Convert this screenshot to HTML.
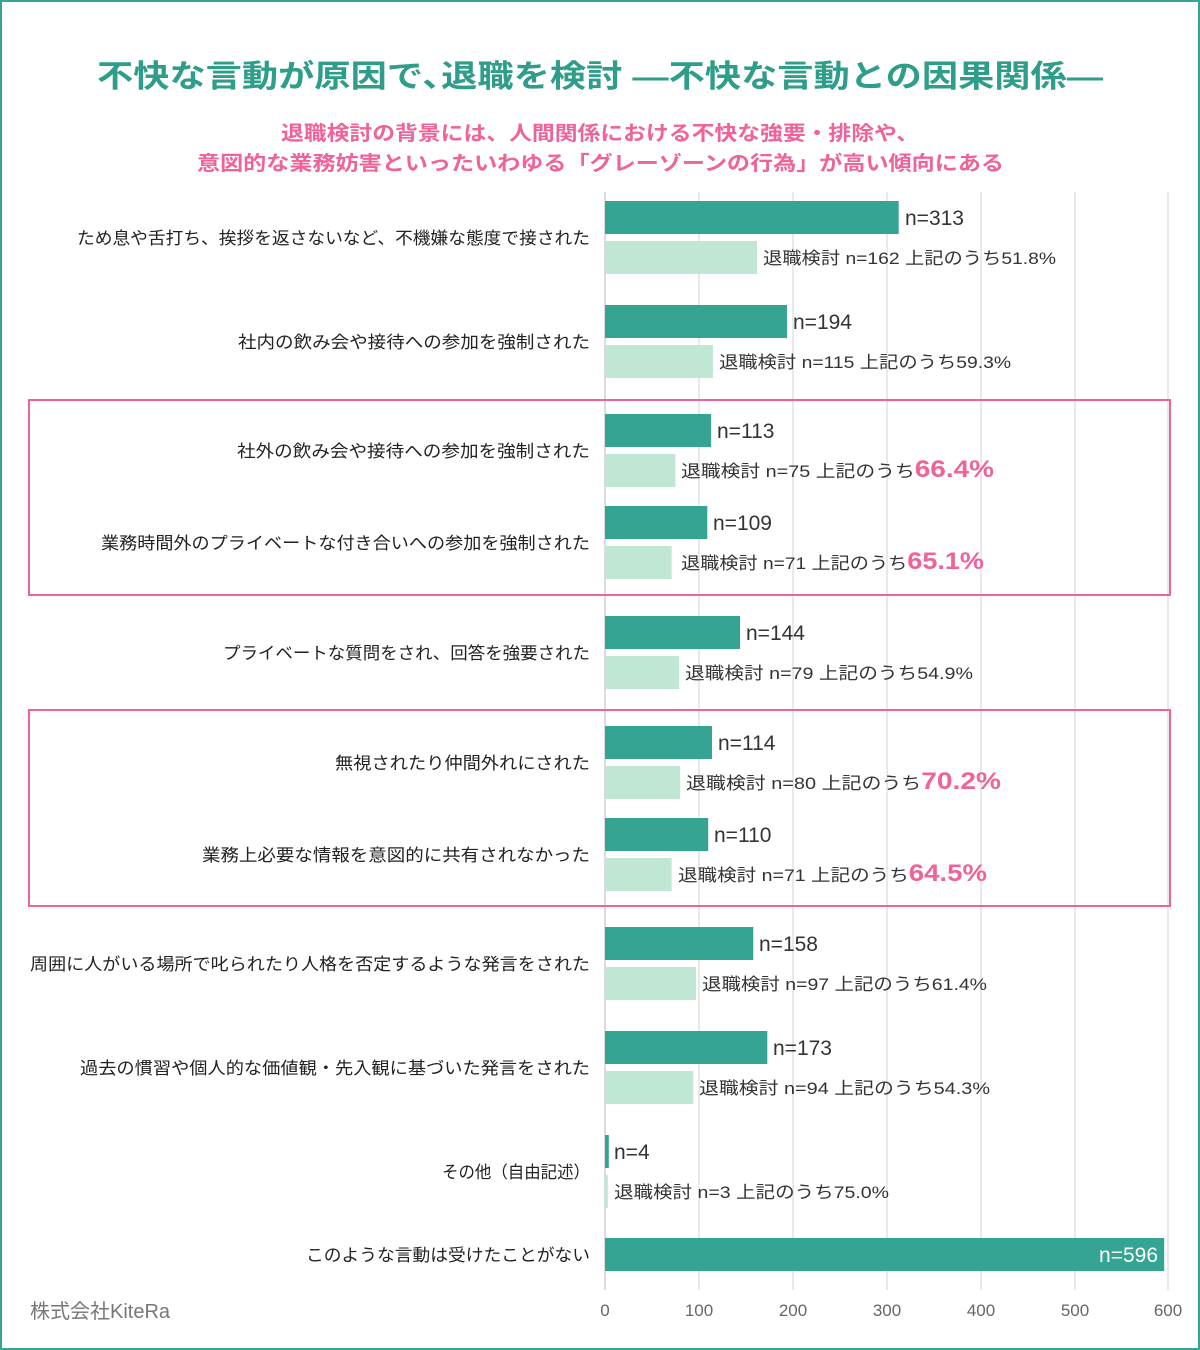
<!DOCTYPE html>
<html><head><meta charset="utf-8"><style>
html,body{margin:0;padding:0;background:#fff}
svg{display:block}
text{font-family:"Liberation Sans","Noto Sans CJK JP",sans-serif}
</style></head><body>
<svg width="1200" height="1350" viewBox="0 0 1200 1350" xmlns="http://www.w3.org/2000/svg">
<rect x="1" y="1" width="1198" height="1348" fill="#fff" stroke="#35a492" stroke-width="2"/>
<text x="97" y="87" textLength="1006" lengthAdjust="spacingAndGlyphs" font-size="31" font-weight="bold" fill="#2e9d89">不快な言動が原因で､退職を検討 ―不快な言動との因果関係―</text>
<text x="281" y="140" textLength="638" lengthAdjust="spacingAndGlyphs" font-size="20" font-weight="bold" fill="#f0629a">退職検討の背景には、人間関係における不快な強要・排除や、</text>
<text x="197" y="170" textLength="807" lengthAdjust="spacingAndGlyphs" font-size="20" font-weight="bold" fill="#f0629a">意図的な業務妨害といったいわゆる「グレーゾーンの行為」が高い傾向にある</text>
<g stroke="#e2e2e2" stroke-width="1.5">
<line x1="699" y1="192" x2="699" y2="1290"/><line x1="793" y1="192" x2="793" y2="1290"/><line x1="887" y1="192" x2="887" y2="1290"/><line x1="981" y1="192" x2="981" y2="1290"/><line x1="1075" y1="192" x2="1075" y2="1290"/><line x1="1168" y1="192" x2="1168" y2="1290"/>
</g>
<line x1="605" y1="192" x2="605" y2="1290" stroke="#d0d0d0" stroke-width="1.5"/>
<rect x="29" y="400" width="1141" height="195" fill="none" stroke="#f0629a" stroke-width="2"/>
<rect x="29" y="710" width="1141" height="196" fill="none" stroke="#f0629a" stroke-width="2"/>
<g fill="#35a492">
<rect x="605" y="201" width="293.7" height="33"/>
<rect x="605" y="305" width="182" height="33"/>
<rect x="605" y="414" width="106" height="33"/>
<rect x="605" y="506" width="102.3" height="33"/>
<rect x="605" y="616" width="135.1" height="33"/>
<rect x="605" y="726" width="107" height="33"/>
<rect x="605" y="818" width="103.2" height="33"/>
<rect x="605" y="927" width="148.3" height="33"/>
<rect x="605" y="1031" width="162.3" height="33"/>
<rect x="605" y="1135" width="3.8" height="33"/>
<rect x="605" y="1238" width="559.2" height="33"/>
</g>
<g fill="#c0e6d4">
<rect x="605" y="241" width="152" height="33"/>
<rect x="605" y="345" width="107.9" height="33"/>
<rect x="605" y="454" width="70.4" height="33"/>
<rect x="605" y="546" width="66.6" height="33"/>
<rect x="605" y="656" width="74.1" height="33"/>
<rect x="605" y="766" width="75.1" height="33"/>
<rect x="605" y="858" width="66.6" height="33"/>
<rect x="605" y="967" width="91" height="33"/>
<rect x="605" y="1071" width="88.2" height="33"/>
<rect x="605" y="1175" width="2.8" height="33"/>
</g>
<g font-size="21" fill="#333">
<text x="905" y="225">n=313</text>
<text x="793" y="329">n=194</text>
<text x="717" y="438">n=113</text>
<text x="713" y="530">n=109</text>
<text x="746" y="640">n=144</text>
<text x="718" y="750">n=114</text>
<text x="714" y="842">n=110</text>
<text x="759" y="951">n=158</text>
<text x="773" y="1055">n=173</text>
<text x="614" y="1159">n=4</text>
<text x="1158" y="1262" text-anchor="end" fill="#fff">n=596</text>
</g>
<g font-size="17" fill="#333" lengthAdjust="spacingAndGlyphs">
<text x="763" y="264" textLength="293" lengthAdjust="spacingAndGlyphs">退職検討 n=162 上記のうち51.8%</text>
<text x="719" y="368" textLength="292" lengthAdjust="spacingAndGlyphs">退職検討 n=115 上記のうち59.3%</text>
<text x="681" y="477" textLength="313" lengthAdjust="spacingAndGlyphs">退職検討 n=75 上記のうち<tspan font-size="24" font-weight="bold" fill="#f0629a">66.4%</tspan></text>
<text x="681" y="569" textLength="303" lengthAdjust="spacingAndGlyphs">退職検討 n=71 上記のうち<tspan font-size="24" font-weight="bold" fill="#f0629a">65.1%</tspan></text>
<text x="685" y="679" textLength="288" lengthAdjust="spacingAndGlyphs">退職検討 n=79 上記のうち54.9%</text>
<text x="686" y="789" textLength="315" lengthAdjust="spacingAndGlyphs">退職検討 n=80 上記のうち<tspan font-size="24" font-weight="bold" fill="#f0629a">70.2%</tspan></text>
<text x="678" y="881" textLength="309" lengthAdjust="spacingAndGlyphs">退職検討 n=71 上記のうち<tspan font-size="24" font-weight="bold" fill="#f0629a">64.5%</tspan></text>
<text x="702" y="990" textLength="285" lengthAdjust="spacingAndGlyphs">退職検討 n=97 上記のうち61.4%</text>
<text x="699" y="1094" textLength="291" lengthAdjust="spacingAndGlyphs">退職検討 n=94 上記のうち54.3%</text>
<text x="614" y="1198" textLength="275" lengthAdjust="spacingAndGlyphs">退職検討 n=3 上記のうち75.0%</text>
</g>
<g font-size="17" fill="#222">
<text x="77" y="244" textLength="513" lengthAdjust="spacingAndGlyphs">ため息や舌打ち、挨拶を返さないなど、不機嫌な態度で接された</text>
<text x="238" y="348" textLength="352" lengthAdjust="spacingAndGlyphs">社内の飲み会や接待への参加を強制された</text>
<text x="237" y="457" textLength="353" lengthAdjust="spacingAndGlyphs">社外の飲み会や接待への参加を強制された</text>
<text x="101" y="549" textLength="489" lengthAdjust="spacingAndGlyphs">業務時間外のプライベートな付き合いへの参加を強制された</text>
<text x="223" y="659" textLength="367" lengthAdjust="spacingAndGlyphs">プライベートな質問をされ、回答を強要された</text>
<text x="335" y="769" textLength="255" lengthAdjust="spacingAndGlyphs">無視されたり仲間外れにされた</text>
<text x="202" y="861" textLength="388" lengthAdjust="spacingAndGlyphs">業務上必要な情報を意図的に共有されなかった</text>
<text x="30" y="970" textLength="560" lengthAdjust="spacingAndGlyphs">周囲に人がいる場所で叱られたり人格を否定するような発言をされた</text>
<text x="80" y="1074" textLength="510" lengthAdjust="spacingAndGlyphs">過去の慣習や個人的な価値観・先入観に基づいた発言をされた</text>
<text x="442" y="1178" textLength="148" lengthAdjust="spacingAndGlyphs">その他（自由記述）</text>
<text x="306" y="1261" textLength="284" lengthAdjust="spacingAndGlyphs">このような言動は受けたことがない</text>
</g>
<g font-size="17" fill="#666" text-anchor="middle">
<text x="605" y="1316">0</text><text x="699" y="1316">100</text><text x="793" y="1316">200</text><text x="887" y="1316">300</text><text x="981" y="1316">400</text><text x="1075" y="1316">500</text><text x="1168" y="1316">600</text>
</g>
<text x="30" y="1318" font-size="20" fill="#777">株式会社KiteRa</text>
</svg>
</body></html>
